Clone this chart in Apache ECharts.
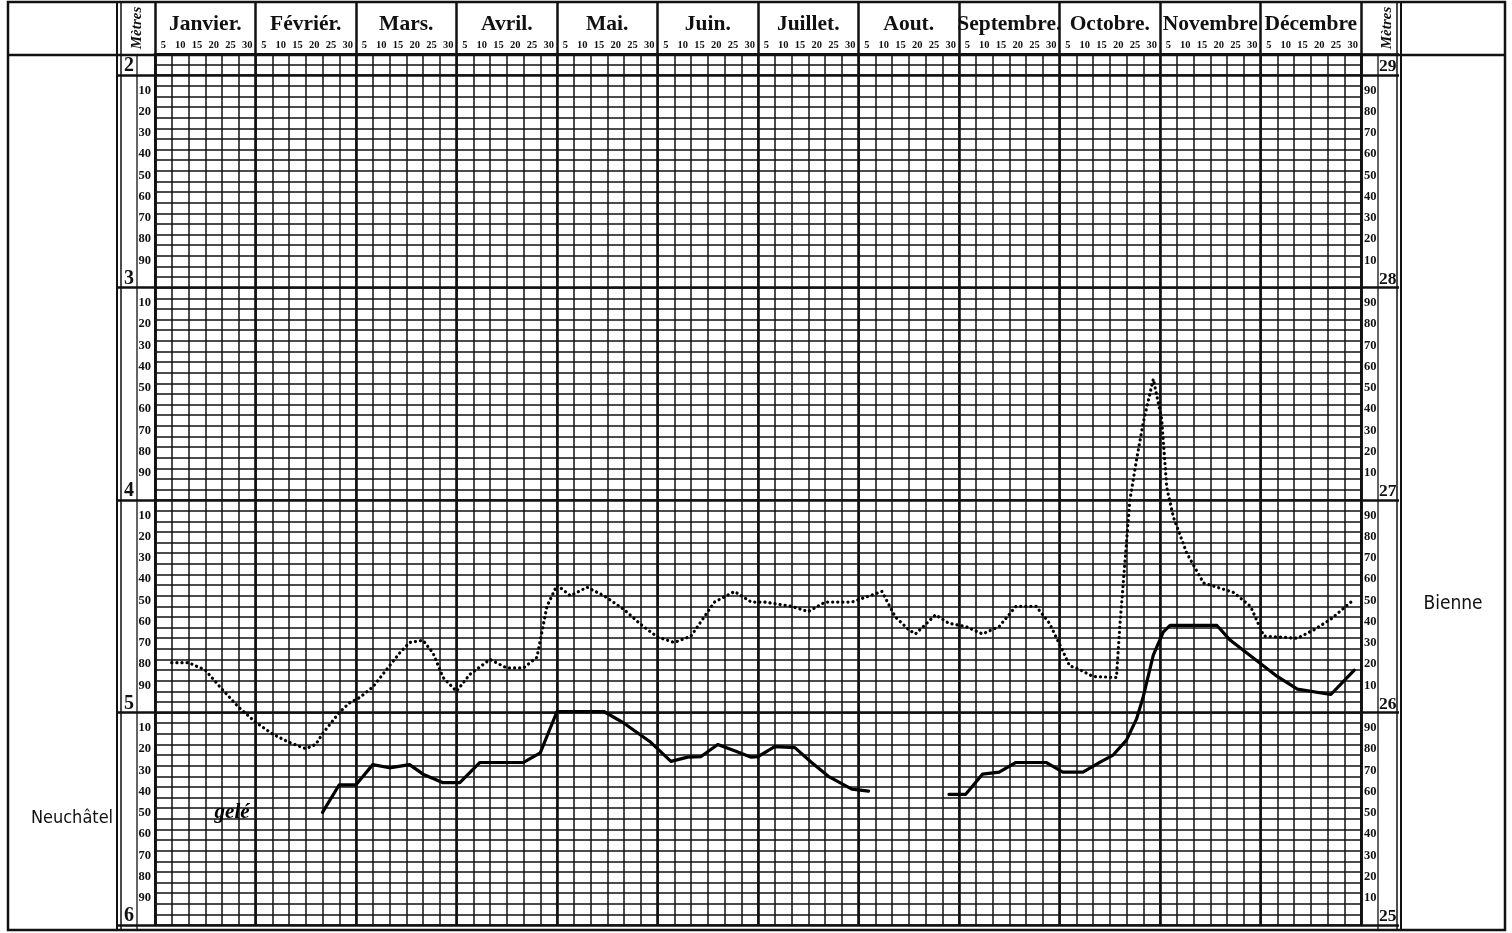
<!DOCTYPE html>
<html>
<head>
<meta charset="utf-8">
<script src="https://cdn.jsdelivr.net/npm/echarts@6/dist/echarts.min.js"></script>
<style>
html,body{margin:0;padding:0;background:#fff;}
#chart{width:1512px;height:933px;}
</style>
</head>
<body>
<div id="chart"></div>
<script>
// ---- data ----
const months = ['Janvier.', 'Févriér.', 'Mars.', 'Avril.', 'Mai.', 'Juin.', 'Juillet.', 'Aout.', 'Septembre.', 'Octobre.', 'Novembre', 'Décembre'];
const dayTicks = ['5', '10', '15', '20', '25', '30'];
const metreMarksLeft = [2, 3, 4, 5, 6];

// Bienne (right scale, metres) — day of year counted in 30-day months
const bienneDays = [5, 10, 15, 20, 25, 30, 35, 40, 45, 48, 50, 55, 58, 61, 65, 69, 73, 76, 80, 83, 86, 90,
  94, 100, 105, 110, 114, 117, 120, 124, 129, 134, 140, 145, 150, 155, 160, 167, 173, 178, 182, 190, 195, 200,
  208, 217, 221, 225, 227, 233, 237, 242, 247, 252, 257, 263, 267, 271, 273, 275, 280, 287, 288, 289.6, 291,
  293, 295, 298, 300.5, 302, 304, 308, 313, 317, 322, 327, 331, 341, 346, 351, 357];
const bienneLevels = [26.235, 26.235, 26.20, 26.11, 26.025, 25.955, 25.90, 25.86, 25.83, 25.85, 25.90, 26.00, 26.045, 26.07, 26.12, 26.20, 26.28, 26.33, 26.34, 26.28, 26.165, 26.10,
  26.18, 26.25, 26.21, 26.21, 26.26, 26.50, 26.60, 26.55, 26.59, 26.55, 26.485, 26.415, 26.355, 26.33, 26.36, 26.52, 26.57, 26.52, 26.52, 26.50, 26.475, 26.52,
  26.52, 26.57, 26.45, 26.39, 26.37, 26.46, 26.42, 26.405, 26.37, 26.405, 26.50, 26.50, 26.42, 26.29, 26.22, 26.21, 26.17, 26.165, 26.405, 26.72, 27.0,
  27.19, 27.365, 27.57, 27.38, 27.06, 26.92, 26.75, 26.61, 26.59, 26.565, 26.50, 26.36, 26.35, 26.39, 26.44, 26.52];

// Neuchâtel (left scale, metres); null = no reading
const neuchatelDays = [50, 55, 60, 65, 70, 76, 80, 86, 91, 97, 110, 115, 120, 134, 140, 148, 154, 159, 163, 168, 173, 178, 180, 185, 191, 196, 201, 208, 213,
  225,
  237, 242, 247, 252, 257, 266, 271, 277, 282, 286, 290, 293, 295, 298, 301, 303, 317, 321, 335, 341, 351, 358];
const neuchatelLevels = [5.47, 5.34, 5.34, 5.245, 5.26, 5.245, 5.29, 5.33, 5.33, 5.235, 5.235, 5.19, 4.995, 4.995, 5.05, 5.14, 5.23, 5.21, 5.207, 5.15, 5.18, 5.21, 5.207, 5.16, 5.165, 5.235, 5.30, 5.36, 5.37,
  null,
  5.385, 5.385, 5.29, 5.28, 5.235, 5.235, 5.28, 5.28, 5.235, 5.20, 5.13, 5.03, 4.925, 4.73, 4.62, 4.59, 4.59, 4.66, 4.83, 4.89, 4.915, 4.80];

const frozenNote = {day: 23, level: 5.47, text: 'gelé'};

// ---- build ----
const dayLabels = months.flatMap(() => dayTicks);
const pair = (xs, ys) => xs.map((x, i) => [x, ys[i] === null ? '-' : ys[i]]);
const INK = '#111';
const serif = "'Liberation Serif', 'DejaVu Serif', serif";
const minorFmt = (lo, hi) => v => {
  if (v < lo || v > hi) return '';
  const c = Math.round(v * 100) % 100;
  return (c !== 0 && c % 10 === 0) ? String(c) : '';
};

const chart = echarts.init(document.getElementById('chart'), null, {renderer: 'canvas'});
chart.setOption({
  backgroundColor: '#fff',
  animation: false,
  grid: {left: 155, right: 151, top: 54, bottom: 8, containLabel: false},
  xAxis: [
    {type: 'value', min: 0, max: 360, show: false, position: 'top'},
    {type: 'category', data: dayLabels, position: 'top', boundaryGap: true,
      axisLine: {show: false}, axisTick: {show: false},
      axisLabel: {interval: 0, margin: 3, fontSize: 10.5, fontWeight: 'bold', fontFamily: serif, color: INK, hideOverlap: false},
      splitLine: {show: true, lineStyle: {color: INK, width: 1.5}}},
    {type: 'category', data: months, position: 'top', boundaryGap: true,
      axisLine: {show: true, lineStyle: {color: INK, width: 3}},
      axisTick: {show: true, interval: 0, alignWithLabel: false, length: 52, lineStyle: {color: INK, width: 2.5}},
      axisLabel: {interval: 0, margin: 19, fontSize: 21.5, fontWeight: 'bold', fontFamily: serif, color: INK, hideOverlap: false},
      splitLine: {show: true, interval: 0, lineStyle: {color: INK, width: 2.6}}}
  ],
  yAxis: [
    {type: 'value', position: 'left', inverse: true, min: 1.9, max: 6, interval: 0.05,
      axisLine: {show: true, lineStyle: {color: INK, width: 2.5}}, axisTick: {show: false},
      axisLabel: {formatter: minorFmt(1.99, 6), margin: 4, fontSize: 12.5, fontWeight: 'bold', fontFamily: serif, color: INK, verticalAlign: 'bottom', lineHeight: 12},
      splitLine: {show: true, lineStyle: {color: INK, width: 1.5}}},
    {type: 'value', position: 'left', inverse: true, min: 1.9, max: 6,
      axisLine: {show: false},
      axisTick: {show: true, customValues: metreMarksLeft, length: 37, lineStyle: {color: INK, width: 2.5}},
      axisLabel: {customValues: metreMarksLeft, margin: 21, fontSize: 20, fontWeight: 'bold', fontFamily: serif, color: INK, verticalAlign: 'bottom', lineHeight: 18},
      splitLine: {show: false}},
    {type: 'value', position: 'right', min: 25, max: 29.1, interval: 1,
      axisLine: {show: true, lineStyle: {color: INK, width: 2.5}},
      axisTick: {show: true, length: 38, lineStyle: {color: INK, width: 2.5}},
      axisLabel: {formatter: v => (Math.abs(v - Math.round(v)) < 1e-6 ? String(Math.round(v)) : ''), margin: 18, fontSize: 17.5, fontWeight: 'bold', fontFamily: serif, color: INK, verticalAlign: 'bottom', lineHeight: 17},
      splitLine: {show: true, lineStyle: {color: INK, width: 2.6}}},
    {type: 'value', position: 'right', min: 25, max: 29.1, interval: 0.1,
      axisLine: {show: false}, axisTick: {show: false},
      axisLabel: {formatter: minorFmt(25.01, 29.05), margin: 3, fontSize: 12.5, fontWeight: 'bold', fontFamily: serif, color: INK, verticalAlign: 'bottom', lineHeight: 12},
      splitLine: {show: false}}
  ],
  series: [
    {name: 'Bienne', type: 'line', xAxisIndex: 0, yAxisIndex: 2, data: pair(bienneDays, bienneLevels),
      symbol: 'none', z: 5,
      lineStyle: {color: '#000', width: 3.2, type: [0.1, 5], cap: 'round'}},
    {name: 'Neuchâtel', type: 'line', xAxisIndex: 0, yAxisIndex: 0, data: pair(neuchatelDays, neuchatelLevels),
      symbol: 'none', connectNulls: false, z: 6,
      lineStyle: {color: '#000', width: 3.2, cap: 'round', join: 'round'},
      markPoint: {symbol: 'circle', symbolSize: 0,
        data: [{coord: [frozenNote.day, frozenNote.level], value: frozenNote.text}],
        label: {show: true, position: 'inside', formatter: frozenNote.text, fontSize: 21, fontStyle: 'italic', fontWeight: 'bold', fontFamily: serif, color: '#000'}}}
  ],
  graphic: [
    {type: 'rect', shape: {x: 8, y: 2, width: 1497, height: 928}, style: {fill: 'none', stroke: INK, lineWidth: 2.5}, silent: true},
    {type: 'line', shape: {x1: 8, y1: 55, x2: 1505, y2: 55}, style: {stroke: INK, lineWidth: 2.5}},
    {type: 'line', shape: {x1: 117, y1: 2, x2: 117, y2: 930}, style: {stroke: INK, lineWidth: 2}},
    {type: 'line', shape: {x1: 121, y1: 2, x2: 121, y2: 930}, style: {stroke: INK, lineWidth: 1.5}},
    {type: 'line', shape: {x1: 137, y1: 55, x2: 137, y2: 930}, style: {stroke: INK, lineWidth: 1.3}},
    {type: 'line', shape: {x1: 1378, y1: 55, x2: 1378, y2: 930}, style: {stroke: INK, lineWidth: 1.3}},
    {type: 'line', shape: {x1: 1397, y1: 2, x2: 1397, y2: 930}, style: {stroke: INK, lineWidth: 1.5}},
    {type: 'line', shape: {x1: 1401, y1: 2, x2: 1401, y2: 930}, style: {stroke: INK, lineWidth: 2}},
    {type: 'text', x: 137, y: 28, rotation: Math.PI / 2, style: {text: 'Mètres', fontSize: 15, fontStyle: 'italic', fontWeight: 'bold', fontFamily: serif, fill: INK, textAlign: 'center', textVerticalAlign: 'middle'}},
    {type: 'text', x: 1387, y: 28, rotation: Math.PI / 2, style: {text: 'Mètres', fontSize: 15, fontStyle: 'italic', fontWeight: 'bold', fontFamily: serif, fill: INK, textAlign: 'center', textVerticalAlign: 'middle'}},
    {type: 'text', x: 72, y: 818, style: {text: 'Neuchâtel', fontSize: 18, fontFamily: "'DejaVu Sans Condensed', 'Liberation Sans Narrow', sans-serif", fill: INK, textAlign: 'center', textVerticalAlign: 'middle'}},
    {type: 'text', x: 1453, y: 604, style: {text: 'Bienne', fontSize: 19, fontFamily: "'DejaVu Sans Condensed', 'Liberation Sans Narrow', sans-serif", fill: INK, textAlign: 'center', textVerticalAlign: 'middle'}}
  ]
});
</script>
</body>
</html>
